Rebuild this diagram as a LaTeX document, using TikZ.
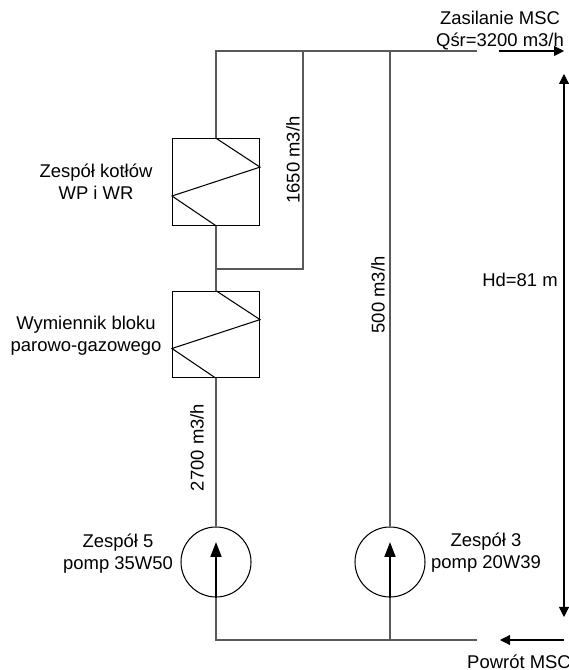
\documentclass[tikz,border=0pt]{standalone}
\usepackage{fontspec}
\setmainfont{Liberation Sans}
\usetikzlibrary{arrows.meta,calc}
\tikzset{
  pipe/.style={draw=black!65,line width=0.9pt},
  heater/.style={draw,line width=0.6pt,minimum width=1.74cm,minimum height=1.73cm,inner sep=0pt},
  pump/.style={draw,circle,line width=0.6pt,minimum size=1.4cm,inner sep=0pt},
  flow/.style={line width=0.6pt,-{Triangle[length=2mm,width=2mm]}},
  bigflow/.style={line width=1.1pt,-{Triangle[length=3mm,width=2.2mm]}},
  label/.style={align=center,inner sep=0pt},
}
\begin{document}
\begin{tikzpicture}[font=\fontsize{10.5}{12.5}\selectfont]
  \useasboundingbox (0,0) rectangle (11.38,13.4);
  % heat exchangers
  \node[heater] (wp) at (4.32,9.76) {};
  \node[heater] (wb) at (4.32,6.71) {};
  \foreach \n in {wp,wb}{
    \draw[line width=0.6pt] (\n.north) -- ($(\n.north east)!0.33!(\n.south east)$)
      -- ($(\n.north west)!0.66!(\n.south west)$) -- (\n.south);}
  % pumps
  \node[pump] (p5) at (4.32,2.16) {};
  \node[pump] (p3) at (7.8,2.16) {};
  % pipe points
  \coordinate (tl) at (4.32,12.38);
  \coordinate (tm) at (6.06,12.38);
  \coordinate (tr) at (7.8,12.38);
  \coordinate (te) at (9.54,12.38);
  \coordinate (mj) at (4.32,8.02);
  \coordinate (bl) at (4.32,0.6);
  \coordinate (br) at (7.8,0.6);
  \coordinate (be) at (9.54,0.6);
  % pipes
  \draw[pipe] (wp.north) -- (tl) -- (te);
  \draw[pipe] (wb.north) -- (wp.south);
  \draw[pipe] (mj) -| (tm);
  \draw[pipe] (p5.north) -- (wb.south);
  \draw[pipe] (p3.north) -- (tr);
  \draw[pipe] (p5.south) -- (bl) -- (be);
  \draw[pipe] (p3.south) -- (br);
  % flow arrows
  \coordinate (p5t) at (4.32,2.56);
  \coordinate (p3t) at (7.8,2.56);
  \draw[bigflow] (p5.south) -- (p5t);
  \draw[bigflow] (p3.south) -- (p3t);
  \coordinate (zs) at (9.98,12.38);
  \coordinate (ze) at (11.28,12.38);
  \coordinate (ps) at (11.28,0.6);
  \coordinate (pe) at (10.0,0.6);
  \draw[flow] (zs) -- (ze);
  \draw[flow] (ps) -- (pe);
  % head
  \coordinate (ht) at (11.28,11.92);
  \coordinate (hb) at (11.28,1.06);
  \draw[line width=0.6pt,{Triangle[length=2mm,width=2mm]}-{Triangle[length=2mm,width=2mm]}] (ht) -- (hb);
  % labels
  \node[label] (zas) at (10.0,13.04) {Zasilanie MSC};
  \node[label] (qsr) at (10.0,12.58) {Qśr=3200 m3/h};
  \node[label] (hd) at (10.4,7.8) {Hd=81 m};
  \node[label] (pow) at (10.38,0.16) {Powrót MSC};
  \node[label] (lwp) at (1.92,9.76) {Zespół kotłów\\WP i WR};
  \node[label] (lwb) at (1.72,6.68) {Wymiennik bloku\\parowo-gazowego};
  \node[label] (lp5) at (2.36,2.32) {Zespół 5\\pomp 35W50};
  \node[label] (lp3) at (9.72,2.34) {Zespół 3\\pomp 20W39};
  \node[label,rotate=90] (f1) at (5.86,10.2) {1650 m3/h};
  \node[label,rotate=90] (f2) at (7.56,7.5) {500 m3/h};
  \node[label,rotate=90] (f3) at (3.94,4.45) {2700 m3/h};
\end{tikzpicture}
\end{document}
